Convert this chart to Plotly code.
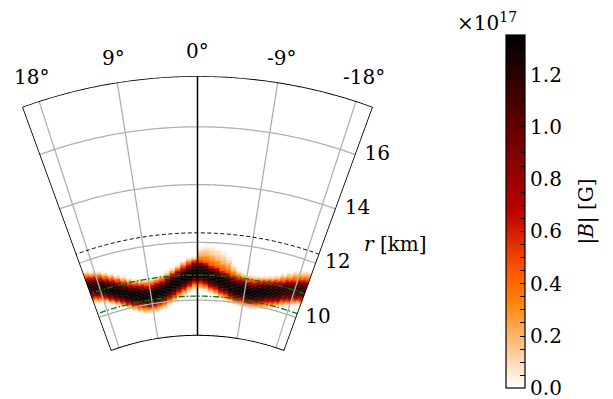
import numpy as np
import plotly.graph_objects as go

# ---------------- data ----------------
# angular columns (deg), left edge (+19.5) to right edge (-19.5)
theta_cols = np.arange(19.5, -20.0, -1.0)

# radius (km) of the dark |B| ridge in each column
ridge_r = [11.08, 11.02, 10.95, 10.85, 10.75, 10.65, 10.55, 10.45, 10.37, 10.32,
           10.30, 10.30, 10.33, 10.38, 10.46, 10.56, 10.67, 10.79, 10.90, 10.97,
           10.97, 10.92, 10.84, 10.76, 10.68, 10.61, 10.55, 10.50, 10.47, 10.45,
           10.45, 10.47, 10.51, 10.56, 10.62, 10.69, 10.77, 10.85, 10.93, 11.00]
# peak |B| on the ridge (units of 1e17 G)
peak_B = [1.22, 1.27, 1.30, 1.32, 1.33, 1.33, 1.33, 1.33, 1.33, 1.33,
          1.33, 1.33, 1.33, 1.33, 1.33, 1.33, 1.33, 1.33, 1.33, 1.33,
          1.30, 1.30, 1.30, 1.30, 1.30, 1.30, 1.30, 1.32, 1.33, 1.33,
          1.33, 1.33, 1.33, 1.30, 1.28, 1.25, 1.22, 1.20, 1.18, 1.15]
# extent (km) of the faint orange fringe above / below the dark core
fringe_up = [0.22, 0.20, 0.20, 0.20, 0.20, 0.20, 0.20, 0.20, 0.20, 0.20,
             0.20, 0.20, 0.20, 0.20, 0.20, 0.20, 0.20, 0.20, 0.18, 0.15,
             0.50, 0.65, 0.70, 0.70, 0.70, 0.62, 0.38, 0.25, 0.20, 0.20,
             0.20, 0.20, 0.20, 0.20, 0.22, 0.26, 0.30, 0.32, 0.32, 0.30]
fringe_dn = [0.20, 0.20, 0.20, 0.20, 0.20, 0.20, 0.20, 0.22, 0.22, 0.24,
             0.24, 0.24, 0.22, 0.22, 0.20, 0.20, 0.24, 0.26, 0.26, 0.26,
             0.24, 0.22, 0.20, 0.20, 0.20, 0.20, 0.20, 0.20, 0.20, 0.20,
             0.20, 0.20, 0.20, 0.20, 0.20, 0.20, 0.20, 0.20, 0.20, 0.20]
# radial profile of the core (fraction of peak) every 0.05 km from ridge
core_prof = [1.00, 0.99, 0.97, 0.93, 0.86, 0.76, 0.62, 0.48, 0.36]
# fringe fall-off (fraction of core edge value), 11 steps across fringe
fringe_prof = [1.00, 0.85, 0.70, 0.57, 0.45, 0.35, 0.26, 0.18, 0.11, 0.05, 0.0]

r_min, r_max = 8.77, 17.76          # km
r_dashed = 12.33                     # black dashed circle
r_green = [10.87, 10.14]             # green dash-dot circles
theta_ticks = [18, 9, 0, -9, -18]
theta_labels = ["18°", "9°", "0°", "-9°", "-18°"]
r_ticks = [10, 12, 14, 16]
r_labels = ["10", "12", "14", "16"]
cb_max = 1.35

# ---------------- build cells ----------------
dr = 0.05
core_w = 0.05 * (len(core_prof) - 1)
r_cells = np.arange(9.2, 12.5, dr) + dr / 2
th, rb, val = [], [], []
for j, tc in enumerate(theta_cols):
    for rc in r_cells:
        d = rc - ridge_r[j]
        a = abs(d)
        if a < core_w + 0.025:
            v = peak_B[j] * core_prof[int(round(a / 0.05))]
        else:
            ext = fringe_up[j] if d > 0 else fringe_dn[j]
            u = (a - core_w) / ext
            if u >= 1:
                continue
            v = peak_B[j] * core_prof[-1] * fringe_prof[min(10, int(round(u * 10)))]
        if v < 0.015:
            continue
        th.append(float(tc))
        rb.append(float(rc - dr / 2))
        val.append(float(v))

# gist_heat_r
cs = [[0.0, "rgb(255,255,255)"], [0.25, "rgb(255,128,0)"], [1 / 3, "rgb(255,85,0)"],
      [0.5, "rgb(191,0,0)"], [1.0, "rgb(0,0,0)"]]

FONT = "DejaVu Serif"
FS = 20

# page geometry (px)
W, H = 613, 600
cx, cy, R = 197.5, 589.0, 513.3
half = 20.0
sx = np.sin(np.radians(half))
pl, pr = cx - R * sx, cx + R * sx
pt = cy - R


def px2paper(x, y):
    return (x - pl) / (pr - pl), (cy - y) / (cy - pt)


fig = go.Figure()

cbx, cby = px2paper(505.7, 35.0)

fig.add_trace(go.Barpolar(
    theta=th, r=[dr] * len(th), base=rb, width=[1.0] * len(th),
    marker=dict(color=val, colorscale=cs, cmin=0, cmax=cb_max,
                line=dict(width=0.5, color=val, colorscale=cs, cmin=0, cmax=cb_max),
                colorbar=dict(x=cbx, xanchor="left", xpad=0, y=cby, yanchor="top", ypad=0,
                              len=353.3, lenmode="pixels", thickness=18.6, thicknessmode="pixels",
                              outlinecolor="black", outlinewidth=1.2,
                              tickmode="linear", tick0=0, dtick=0.05, ticklabelstep=4,
                              tickformat=".1f",
                              ticks="inside", ticklen=5, tickwidth=1.1, tickcolor="black",
                              tickfont=dict(family=FONT, size=FS, color="black"))),
    hoverinfo="skip", showlegend=False))

t_arc = np.linspace(-half, half, 161)
# grid
for rt in r_ticks:
    fig.add_trace(go.Scatterpolar(r=[rt] * len(t_arc), theta=t_arc, mode="lines",
                                  line=dict(color="#b0b0b0", width=1.3), hoverinfo="skip",
                                  showlegend=False))
for tt in theta_ticks:
    if tt == 0:
        continue
    fig.add_trace(go.Scatterpolar(r=[r_min, r_max], theta=[tt, tt], mode="lines",
                                  line=dict(color="#b0b0b0", width=1.3), hoverinfo="skip",
                                  showlegend=False))
# dashed / dash-dot circles
fig.add_trace(go.Scatterpolar(r=[r_dashed] * len(t_arc), theta=t_arc, mode="lines",
                              line=dict(color="black", width=1.0, dash="4px,2.5px"),
                              hoverinfo="skip", showlegend=False))
for rg in r_green:
    fig.add_trace(go.Scatterpolar(r=[rg] * len(t_arc), theta=t_arc, mode="lines",
                                  line=dict(color="green", width=1.3, dash="6px,2px,1.5px,2px"),
                                  hoverinfo="skip", showlegend=False))
# 0 deg line
fig.add_trace(go.Scatterpolar(r=[r_min, r_max], theta=[0, 0], mode="lines",
                              line=dict(color="black", width=1.5), hoverinfo="skip",
                              showlegend=False))
# frame
fr_t = list(t_arc[::-1]) + [-half] + list(t_arc) + [half]
fr_r = [r_max] * len(t_arc) + [r_min] + [r_min] * len(t_arc) + [r_max]
fig.add_trace(go.Scatterpolar(r=fr_r, theta=fr_t, mode="lines", cliponaxis=False,
                              line=dict(color="black", width=1.7), hoverinfo="skip",
                              showlegend=False))
# radial tick labels
fig.add_trace(go.Scatterpolar(r=r_ticks, theta=[-half] * len(r_ticks), mode="markers+text",
                              text=r_labels, textposition="middle right", cliponaxis=False,
                              marker=dict(size=12.8, color="rgba(0,0,0,0)"),
                              textfont=dict(family=FONT, size=FS, color="black"),
                              hoverinfo="skip", showlegend=False))

annots = []
# angular tick labels, 25 px outside the outer arc
for tt, lab in zip(theta_ticks, theta_labels):
    a = np.radians(tt)
    lx, ly = px2paper(cx - (R + 25) * np.sin(a), cy - (R + 25) * np.cos(a))
    annots.append(dict(x=lx, y=ly, xref="paper", yref="paper", xanchor="center",
                       yanchor="middle", text=lab, showarrow=False,
                       font=dict(family=FONT, size=FS, color="black")))
ax_, ay_ = px2paper(361.7, 243.3)
mx_, my_ = px2paper(455.0, 22.0)
tx_, ty_ = px2paper(587.0, 211.5)
annots += [
    dict(x=ax_, y=ay_, xref="paper", yref="paper", xanchor="left", yanchor="middle",
         text="<i>r</i> [km]", showarrow=False, font=dict(family=FONT, size=FS, color="black")),
    dict(x=mx_, y=my_, xref="paper", yref="paper", xanchor="left", yanchor="middle",
         text="×10<sup>17</sup>", showarrow=False, font=dict(family=FONT, size=FS, color="black")),
    dict(x=tx_, y=ty_, xref="paper", yref="paper", xanchor="center", yanchor="middle",
         text="|<i>B</i>| [G]", textangle=-90, showarrow=False,
         font=dict(family=FONT, size=FS, color="black")),
]

fig.update_layout(
    width=W, height=H,
    margin=dict(l=pl, r=W - pr, t=pt, b=H - cy, autoexpand=False),
    paper_bgcolor="white",
    font=dict(family=FONT, size=FS, color="black"),
    polar=dict(
        domain=dict(x=[0, 1], y=[0, 1]),
        sector=[90 - half, 90 + half],
        hole=r_min / r_max,
        bgcolor="white",
        radialaxis=dict(range=[r_min, r_max], showgrid=False, showline=False,
                        showticklabels=False, ticks=""),
        angularaxis=dict(rotation=90, direction="counterclockwise", showgrid=False,
                         showline=False, showticklabels=False, ticks=""),
    ),
    annotations=annots,
)

post = ("var gd=document.getElementById('{plot_id}');"
        "document.documentElement.style.overflow='hidden';"
        "document.body.style.overflow='hidden';document.body.style.margin='0';"
        "gd.parentElement.style.height='399px';gd.parentElement.style.overflow='hidden';")
fig.write_html("out.html", post_script=post)
